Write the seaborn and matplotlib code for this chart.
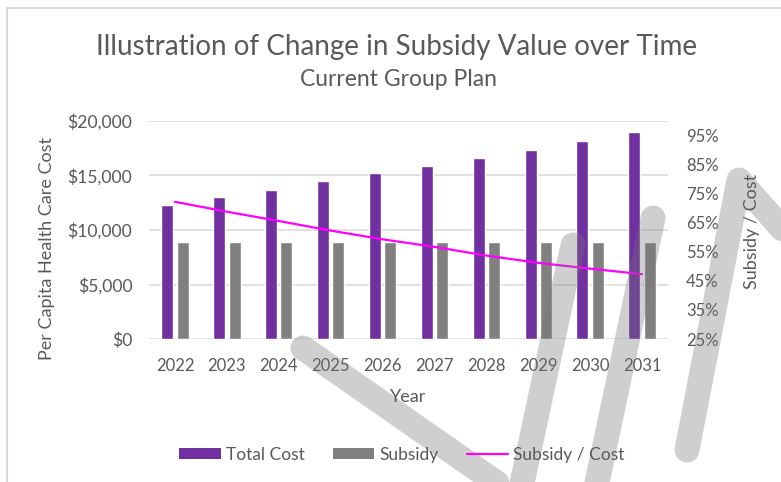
import numpy as np
import pandas as pd
import matplotlib
matplotlib.use("Agg")
import matplotlib.pyplot as plt
from matplotlib.lines import Line2D
from matplotlib.patches import Patch
from matplotlib.ticker import FuncFormatter, FixedLocator
import seaborn as sns

# ---- data ----
years = ["2022", "2023", "2024", "2025", "2026", "2027", "2028", "2029", "2030", "2031"]
total_cost = [12300, 13050, 13700, 14500, 15200, 15900, 16600, 17350, 18150, 19000]
subsidy = [8900, 8900, 8900, 8900, 8900, 8900, 8900, 8900, 8900, 8900]
subsidy_ratio = [0.722, 0.688, 0.656, 0.623, 0.593, 0.567, 0.537, 0.512, 0.492, 0.473]
left_ticks = [0, 5000, 10000, 15000, 20000]
right_ticks = [0.25, 0.35, 0.45, 0.55, 0.65, 0.75, 0.85, 0.95]

PURPLE = "#7030A0"
GRAY = "#808080"
MAGENTA = "#FF00FF"
TXT = "#595959"
GRID = "#D9D9D9"

sns.set_theme(style="white")
plt.rcParams["font.family"] = ["Lato", "DejaVu Sans"]

W, H = 781, 482
fig = plt.figure(figsize=(W / 100, H / 100), dpi=100)


def fx(x):
    return x / W


def fy(y):
    return 1 - y / H


left, right, top, bottom = 149, 668, 121, 339
ax = fig.add_axes([fx(left), fy(bottom), fx(right - left), (bottom - top) / H])

df = pd.DataFrame({
    "Year": years * 2,
    "Series": ["Total Cost"] * len(years) + ["Subsidy"] * len(years),
    "Value": total_cost + subsidy,
})
sns.barplot(data=df, x="Year", y="Value", hue="Series",
            palette={"Total Cost": PURPLE, "Subsidy": GRAY},
            width=0.594, gap=0.22, ax=ax, legend=False, saturation=1)
ax.set_ylim(0, 20000)
ax.set_xlim(-0.5, len(years) - 0.5)
ax.yaxis.set_major_locator(FixedLocator(left_ticks))
ax.yaxis.set_major_formatter(FuncFormatter(lambda v, p: f"${v:,.0f}"))
ax.grid(axis="y", color=GRID, linewidth=1.1)
ax.set_axisbelow(True)
for s in ax.spines.values():
    s.set_visible(False)
ax.tick_params(axis="y", length=0, pad=12, labelsize=12.6, labelcolor=TXT)
ax.tick_params(axis="x", length=0, pad=14, labelsize=12, labelcolor=TXT)
ax.set_xlabel("")
ax.set_ylabel("")

ax2 = ax.twinx()
sns.lineplot(x=np.arange(len(years)), y=subsidy_ratio, ax=ax2, color=MAGENTA,
             linewidth=1.6)
ax2.set_ylim(0.25, 1.0)
ax2.yaxis.set_major_locator(FixedLocator(right_ticks))
ax2.yaxis.set_major_formatter(FuncFormatter(lambda v, p: f"{v*100:.0f}%"))
ax2.tick_params(axis="y", length=0, pad=13, labelsize=12, labelcolor=TXT)
ax2.grid(False)
for s in ax2.spines.values():
    s.set_visible(False)
ax2.set_ylabel("")

# texts
fig.text(fx(397), fy(47), "Illustration of Change in Subsidy Value over Time",
         ha="center", va="center", fontsize=20, color=TXT)
fig.text(fx(399), fy(80), "Current Group Plan", ha="center", va="center",
         fontsize=16.5, color=TXT)
fig.text(fx(47), fy(249), "Per Capita Health Care Cost", rotation=90,
         ha="center", va="center", fontsize=13, color=TXT)
fig.text(fx(752), fy(231), "Subsidy / Cost", rotation=90,
         ha="center", va="center", fontsize=13, color=TXT)
fig.text(fx(408), fy(397), "Year", ha="center", va="center", fontsize=13, color=TXT)

handles = [Patch(facecolor=PURPLE, edgecolor="none"),
           Patch(facecolor=GRAY, edgecolor="none"),
           Line2D([], [], color=MAGENTA, linewidth=1.6)]
fig.legend(handles, ["Total Cost", "Subsidy", "Subsidy / Cost"], ncol=3,
           loc="center", bbox_to_anchor=(fx(402), fy(455)), frameon=False,
           fontsize=12.5, labelcolor=TXT, handlelength=2.4, handleheight=0.6,
           handletextpad=0.3, columnspacing=1.6)

# chart area border
fig.add_artist(Line2D([fx(7), fx(7), fx(W + 10)], [fy(H + 10), fy(8), fy(8)],
                      color=GRID, linewidth=1.5))

# overlaid gray strokes
sx = [303, 560, np.nan, 573, 512, np.nan, 653, 587, np.nan, 687, 739, 830]
sy = [348, 527, np.nan, 245, 530, np.nan, 218, 530, np.nan, 450, 180, 283]
fig.add_artist(Line2D([fx(v) for v in sx], [fy(v) for v in sy], color="#757575",
                      alpha=0.34, linewidth=18, solid_capstyle="round",
                      solid_joinstyle="round"))

fig.savefig("out.png", dpi=100)
